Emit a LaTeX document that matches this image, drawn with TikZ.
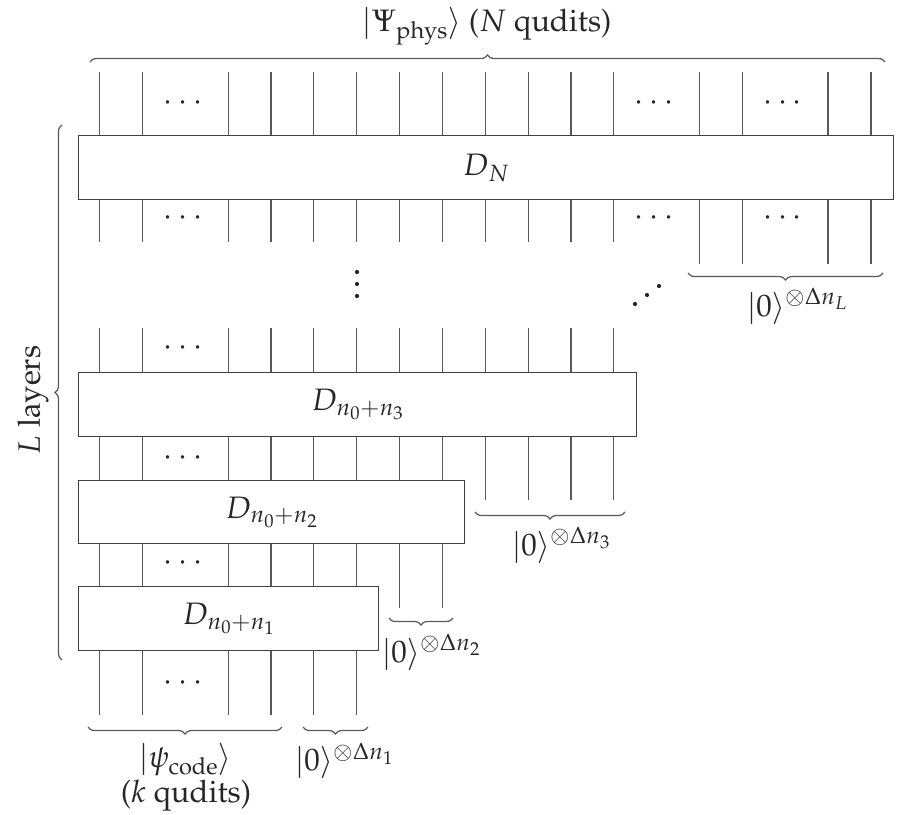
\documentclass[tikz,border=0pt]{standalone}
\usepackage{amsmath}
\usepackage[T1]{fontenc}
\usepackage{mathpazo}
\usetikzlibrary{decorations.pathreplacing,calc}
\begin{document}
\begin{tikzpicture}[x=1pt,y=-1pt,
  wire/.style={draw=black!65, line width=1.2pt},
  gate/.style={draw=black!75, line width=1.3pt, fill=white, anchor=north west,
    inner sep=0pt, text=black!85, font=\fontsize{31}{36}\selectfont},
  lab/.style={inner sep=0pt, text=black!85, font=\fontsize{31}{36}\selectfont},
  brc/.style={draw=black!65, line width=1.2pt, decorate,
    decoration={brace, amplitude=7pt}},
  dot/.style={fill=black!85},
]
\useasboundingbox (0,0) rectangle (913,814);

% wire grid: first wire and spacing
\def\XO{99.6}
\def\W{42.85}

% layers
\node[gate, minimum width=815pt, minimum height=64pt] (DN) at (78,135) {$D_N$};
\node[gate, minimum width=558pt, minimum height=64pt] (D3) at (78,372) {$D_{n_0+n_3}$};
\node[gate, minimum width=386pt, minimum height=63pt] (D2) at (78,480) {$D_{n_0+n_2}$};
\node[gate, minimum width=300pt, minimum height=64pt] (D1) at (78,586) {$D_{n_0+n_1}$};

% physical wires above D_N
\foreach \i in {0,1,3,4,...,12,14,15,17,18}
  \draw[wire] ({\XO+\W*\i},72) coordinate (t\i) -- (t\i |- DN.north);
% wires below D_N
\foreach \i in {0,1,3,4,...,12}
  \draw[wire] ({\XO+\W*\i},242) coordinate (u\i) -- (u\i |- DN.south);
\foreach \i in {14,15,17,18}
  \draw[wire] ({\XO+\W*\i},264) coordinate (u\i) -- (u\i |- DN.south);
% wires above D_{n0+n3}
\foreach \i in {0,1,3,4,...,12}
  \draw[wire] ({\XO+\W*\i},328) coordinate (v\i) -- (v\i |- D3.north);
% wires below D_{n0+n3}
\foreach \i in {0,1,3,4,...,8}
  \draw[wire] ({\XO+\W*\i},440) coordinate (w\i) -- (w\i |- D3.south) (w\i) -- (w\i |- D2.north);
\foreach \i in {9,10,11,12}
  \draw[wire] ({\XO+\W*\i},500) coordinate (w\i) -- (w\i |- D3.south);
% wires below D_{n0+n2}
\foreach \i in {0,1,3,4,5,6}
  \draw[wire] ({\XO+\W*\i},560) coordinate (x\i) -- (x\i |- D2.south) (x\i) -- (x\i |- D1.north);
\foreach \i in {7,8}
  \draw[wire] ({\XO+\W*\i},608) coordinate (x\i) -- (x\i |- D2.south);
% input wires below D_{n0+n1}
\foreach \i in {0,1,3,4,5,6}
  \draw[wire] ({\XO+\W*\i},715) coordinate (y\i) -- (y\i |- D1.south);

% ellipses between wires
\foreach \yy [count=\k] in {100,215,345,455,560,680}
  \node[lab] (cd\k) at ({\XO+\W*2},\yy+3) {$\cdots$};
\node[lab] (cdA) at ({\XO+\W*13},103) {$\cdots$};
\node[lab] (cdB) at ({\XO+\W*16},103) {$\cdots$};
\node[lab] (cdC) at ({\XO+\W*13},218) {$\cdots$};
\node[lab] (cdD) at ({\XO+\W*16},218) {$\cdots$};

% vertical and diagonal dots
\foreach \yy in {272,284,296} \fill[dot] (357,\yy) circle (2.1pt);
\fill[dot] (635,304) circle (2.1pt) (647,295) circle (2.1pt) (659,286) circle (2.1pt);

% output state
\draw[brc] (90,62) -- (885,62);
\node[lab] (phys) at (487,26) {$\lvert\Psi_{\mathrm{phys}}\rangle$ ($N$ qudits)};

% ancilla groups
\draw[brc] (883,273) -- (688,273);
\node[lab, anchor=north] (anL) at (797,288) {$\lvert0\rangle^{\otimes\Delta n_L}$};
\draw[brc] (625,512) -- (475,512);
\node[lab, anchor=north] (an3) at (561,527) {$\lvert0\rangle^{\otimes\Delta n_3}$};
\draw[brc] (453,618) -- (389,618);
\node[lab, anchor=north] (an2) at (431,634) {$\lvert0\rangle^{\otimes\Delta n_2}$};
\draw[brc] (368,727) -- (303,727);
\node[lab] (an1) at (344,761) {$\lvert0\rangle^{\otimes\Delta n_1}$};

% code state
\draw[brc] (282,727) -- (88,727);
\node[lab] (code) at (185,760) {$\lvert\psi_{\mathrm{code}}\rangle$};
\node[lab] (kq) at (186,796) {($k$ qudits)};

% layer count
\draw[brc] (62,660) -- (62,125);
\node[lab, rotate=90] (layers) at (33,400) {$L$ layers};
\end{tikzpicture}
\end{document}
